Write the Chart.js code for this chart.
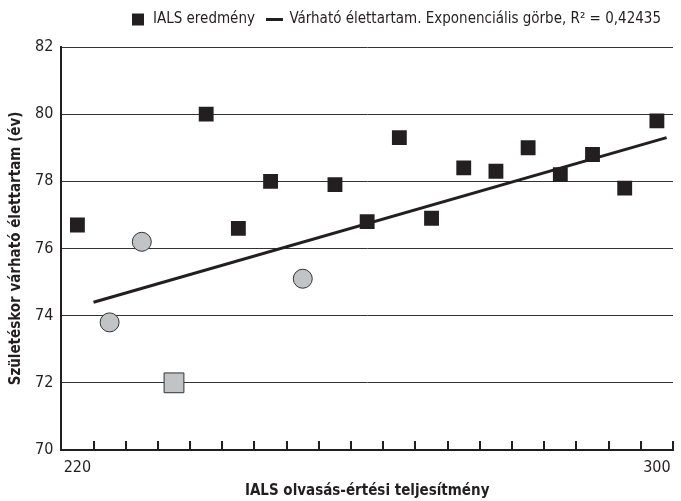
<!DOCTYPE html>
<html>
<head>
<meta charset="utf-8">
<script src="https://cdn.jsdelivr.net/npm/chart.js@4.4.1/dist/chart.umd.min.js"></script>
<style>
  body { margin: 0; background: #fff; }
  #wrap { width: 681px; height: 501px; }
</style>
</head>
<body>
<div id="wrap"><canvas id="chart"></canvas></div>
<script>
// x categories: only the two ends carry a label
const xLabels = ['220', '', '', '', '', '', '', '', '', '', '', '', '', '', '', '', '', '', '300'];
// IALS results (black squares)
const ialsValues = [76.7, null, null, null, 80.0, 76.6, 78.0, null, 77.9, 76.8, 79.3, 76.9, 78.4, 78.3, 79.0, 78.2, 78.8, 77.8, 79.8];
// grey circles
const circleValues = [null, 73.8, 76.2, null, null, null, null, 75.1, null, null, null, null, null, null, null, null, null, null, null];
// grey square
const greySquareValues = [null, null, null, 72.0, null, null, null, null, null, null, null, null, null, null, null, null, null, null, null];
// fitted curve, ends (x in category index units)
const trendX = [0.5, 18.3];
const trendY = [74.4, 79.3];
const yTicks = [70, 72, 74, 76, 78, 80, 82];

const FONT = "'DejaVu Sans Condensed', 'Liberation Sans Narrow', sans-serif";
const INK = '#231f20';

//tick marks pointing up into the plot, between categories
const innerTicks = {
    id: 'innerTicks',
    afterDraw(chart) {
        const s = chart.scales.x2;
        const bottom = chart.chartArea.bottom;
        const ctx = chart.ctx;
        ctx.save();
        ctx.strokeStyle = INK;
        ctx.lineWidth = 2;
        ctx.beginPath();
        for (let i = 1; i <= xLabels.length; i++) {
            const x = Math.round(s.getPixelForValue(i - 0.5));
            ctx.moveTo(x, bottom);
            ctx.lineTo(x, bottom - 9);
        }
        ctx.stroke();
        ctx.restore();
    }
};

//extra room under the legend
const legendGap = {
    id: 'legendGap',
    beforeInit(chart) {
        const fit = chart.legend.fit;
        chart.legend.fit = function () {
            fit.bind(chart.legend)();
            this.height += 10;
        };
    }
};

new Chart(document.getElementById('chart'), {
    type: 'line',
    plugins: [innerTicks, legendGap],
    data: {
        labels: xLabels,
        datasets: [
            {
                label: 'IALS eredmény',
                data: ialsValues,
                showLine: false,
                pointStyle: 'rect',
                pointRadius: 10.5,
                pointHoverRadius: 10.5,
                backgroundColor: INK,
                borderColor: INK,
                borderWidth: 0,
                order: 1
            },
            {
                label: 'Várható élettartam. Exponenciális görbe, R² = 0,42435',
                data: trendX.map((x, i) => ({ x: x, y: trendY[i] })),
                xAxisID: 'x2',
                borderColor: INK,
                backgroundColor: INK,
                borderWidth: 3,
                pointRadius: 0,
                pointStyle: 'line',
                order: 2
            },
            {
                label: 'circles',
                data: circleValues,
                showLine: false,
                pointStyle: 'circle',
                pointRadius: 9.5,
                backgroundColor: '#c1c3c5',
                borderColor: '#333333',
                borderWidth: 1,
                order: 0
            },
            {
                label: 'greysquare',
                data: greySquareValues,
                showLine: false,
                pointStyle: 'rect',
                pointRadius: 14,
                backgroundColor: '#c1c3c5',
                borderColor: '#333333',
                borderWidth: 1,
                order: 0
            }
        ]
    },
    options: {
        responsive: true,
        maintainAspectRatio: false,
        animation: false,
        layout: { autoPadding: false, padding: { left: 7, right: 8, top: 0, bottom: 2 } },
        plugins: {
            tooltip: false,
            legend: {
                position: 'top',
                align: 'end',
                labels: {
                    usePointStyle: true,
                    boxHeight: 12,
                    padding: 12,
                    color: INK,
                    font: { family: FONT, size: 15 },
                    filter: (item) => item.datasetIndex < 2
                }
            }
        },
        scales: {
            x: {
                type: 'category',
                offset: true,
                grid: { display: false, offset: true, drawTicks: false },
                border: { color: INK, width: 2 },
                ticks: {
                    autoSkip: false,
                    maxRotation: 0,
                    color: INK,
                    padding: 10,
                    font: { family: FONT, size: 16, lineHeight: 1 }
                },
                title: {
                    display: true,
                    text: 'IALS olvasás-értési teljesítmény',
                    color: INK,
                    padding: { top: -2, bottom: 0 },
                    font: { family: FONT, size: 15, weight: 'bold', lineHeight: 1 }
                }
            },
            x2: {
                type: 'linear',
                display: false,
                min: -0.5,
                max: xLabels.length - 0.5
            },
            y: {
                min: 70,
                max: 82,
                afterBuildTicks: (axis) => { axis.ticks = yTicks.map(v => ({ value: v })); },
                grid: { color: '#333333', lineWidth: 1, drawTicks: false },
                border: { color: INK, width: 2 },
                ticks: {
                    color: INK,
                    padding: 8,
                    font: { family: FONT, size: 16 }
                },
                title: {
                    display: true,
                    text: 'Születéskor várható élettartam (év)',
                    color: INK,
                    padding: { top: 0, bottom: 2 },
                    font: { family: FONT, size: 15, weight: 'bold' }
                }
            }
        }
    }
});
</script>
</body>
</html>
